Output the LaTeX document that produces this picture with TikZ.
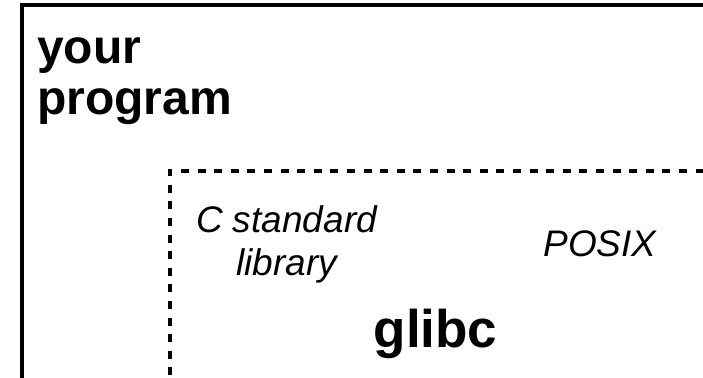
\documentclass[tikz,border=0pt]{standalone}
\usepackage{fontspec}
\setmainfont{Liberation Sans}
\usepackage{tikz}
\usetikzlibrary{positioning}

\begin{document}
\begin{tikzpicture}[x=1pt,y=-1pt,inner sep=0pt,
  box/.style={line width=4pt},
  libbox/.style={line width=4pt,dash pattern=on 8pt off 8.6pt},
  big/.style={font=\bfseries\fontsize{48}{51}\selectfont,align=left},
  part/.style={font=\itshape\fontsize{37}{43}\selectfont,align=center}]
\useasboundingbox (0,0) rectangle (703,377);
\clip (0,0) rectangle (703,377);
\coordinate (prog nw) at (22,5.5);
\coordinate (prog se) at (740,420);
\coordinate (lib nw) at (169.5,171);
\coordinate (lib se) at (760,430);
\draw[box] (prog nw) rectangle (prog se);
\draw[libbox] (lib se) |- (lib nw) -- (lib nw |- lib se);
\node[big,anchor=base west] (prog) at (37,114) {your\\program};
\node[part,anchor=base] (cstd) at (286.5,275) {C standard\\library};
\node[part,anchor=base] (posix) at (600,256) {POSIX};
\node[font=\bfseries\fontsize{53}{60}\selectfont,anchor=base] (glibc) at (435.5,347) {glibc};
\end{tikzpicture}
\end{document}
